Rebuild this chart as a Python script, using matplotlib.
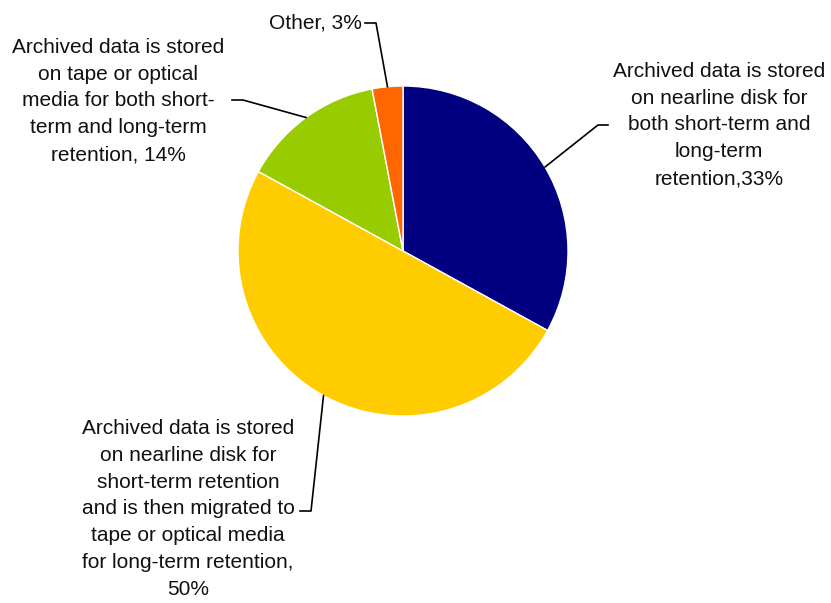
import numpy as np
import matplotlib
matplotlib.use("Agg")
from matplotlib import pyplot as plt

plt.rcParams['font.family'] = ['Liberation Sans', 'DejaVu Sans']

# slice values, clockwise from 12 o'clock
labels = [
    "Archived data is stored\non nearline disk for\nboth short-term and\nlong-term\nretention,33%",
    "Archived data is stored\non nearline disk for\nshort-term retention\nand is then migrated to\ntape or optical media\nfor long-term retention,\n50%",
    "Archived data is stored\non tape or optical\nmedia for both short-\nterm and long-term\nretention, 14%",
    "Other, 3%",
]
values = [33, 50, 14, 3]
colors = ['#000080', '#FFCC00', '#99CC00', '#FF6600']

W, H = 831, 603
fig = plt.figure(figsize=(W / 100, H / 100), dpi=100)
ax = fig.add_axes([0, 0, 1, 1])

cx, cy, r = 403, H - 251, 165
wedges, _ = ax.pie(values, colors=colors, startangle=90, counterclock=False,
                   center=(cx, cy), radius=r, frame=True,
                   wedgeprops=dict(edgecolor='white', linewidth=1))
ax.set_xlim(0, W)
ax.set_ylim(0, H)
ax.set_aspect('equal')
ax.axis('off')

# leader elbows and text anchors (pixel coords, y from top)
elbows = [(598, 125), (311, 511), (243, 100), (376, 23)]
ends = [(608, 125), (300, 511), (232, 100), (365, 23)]
texts = [(719, 125, 'center'), (188, 509, 'center'), (118, 101, 'center'), (362, 23, 'right')]

for w, el, en, (tx, ty, ha), lab in zip(wedges, elbows, ends, texts, labels):
    ang = np.deg2rad((w.theta1 + w.theta2) / 2)
    px = cx + r * np.cos(ang)
    py = cy + r * np.sin(ang)
    ax.plot([px, el[0], en[0]], [py, H - el[1], H - en[1]], color='black', lw=1.2)
    ax.text(tx, H - ty, lab, ha=ha, va='center', multialignment='center',
            fontsize=15, linespacing=1.52, color='#111111')

fig.savefig('out.png', dpi=100)
